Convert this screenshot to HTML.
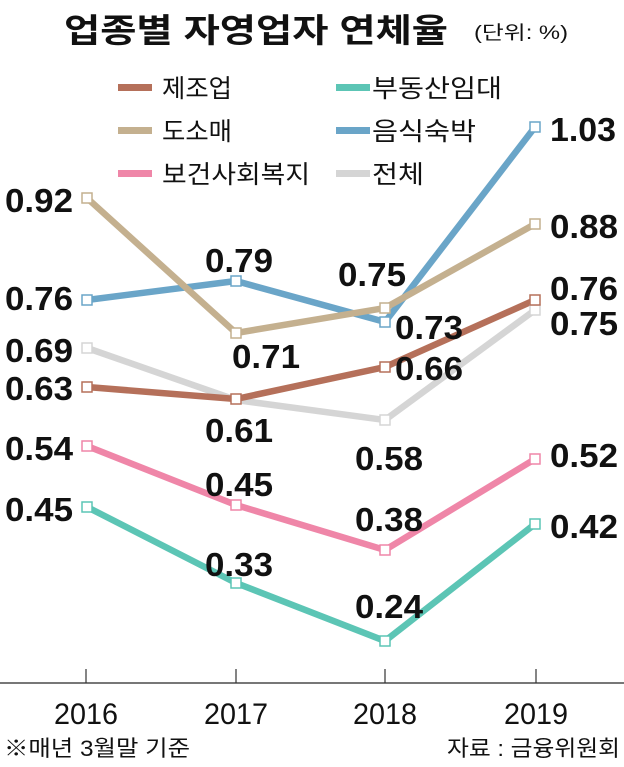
<!DOCTYPE html>
<html><head><meta charset="utf-8"><style>
body{margin:0;background:#fff;width:624px;height:762px;overflow:hidden}
svg text{font-family:"Liberation Sans","Noto Sans CJK KR",sans-serif}
</style></head><body>
<svg width="624" height="762" xmlns="http://www.w3.org/2000/svg">
<text x="64" y="42" font-size="33" font-weight="bold" fill="#111" textLength="384" lengthAdjust="spacingAndGlyphs">업종별 자영업자 연체율</text>
<text x="474" y="39" font-size="19" fill="#111" textLength="94" lengthAdjust="spacingAndGlyphs">(단위: %)</text>
<g font-size="25" fill="#111">
<rect x="118" y="84" width="34" height="7" fill="#b5705a"/><text x="162" y="97" textLength="70" lengthAdjust="spacingAndGlyphs">제조업</text>
<rect x="118" y="127" width="34" height="7" fill="#c4b08f"/><text x="162" y="140" textLength="70" lengthAdjust="spacingAndGlyphs">도소매</text>
<rect x="118" y="170" width="34" height="7" fill="#ef86a8"/><text x="162" y="183" textLength="148" lengthAdjust="spacingAndGlyphs">보건사회복지</text>
<rect x="336" y="84" width="34" height="7" fill="#5cc5b5"/><text x="372" y="97" textLength="130" lengthAdjust="spacingAndGlyphs">부동산임대</text>
<rect x="336" y="127" width="34" height="7" fill="#6aa5c8"/><text x="372" y="140" textLength="104" lengthAdjust="spacingAndGlyphs">음식숙박</text>
<rect x="336" y="170" width="34" height="7" fill="#d5d5d5"/><text x="372" y="183" textLength="52" lengthAdjust="spacingAndGlyphs">전체</text>
</g>
<line x1="0" y1="683" x2="624" y2="683" stroke="#777" stroke-width="2"/>
<g stroke="#333" stroke-width="1.2">
<line x1="86" y1="669" x2="86" y2="683"/><line x1="236" y1="669" x2="236" y2="683"/>
<line x1="385" y1="669" x2="385" y2="683"/><line x1="536" y1="669" x2="536" y2="683"/>
</g>
<g font-size="30" fill="#111">
<text x="54" y="724" textLength="64" lengthAdjust="spacingAndGlyphs">2016</text>
<text x="204" y="724" textLength="64" lengthAdjust="spacingAndGlyphs">2017</text>
<text x="353" y="724" textLength="64" lengthAdjust="spacingAndGlyphs">2018</text>
<text x="504" y="724" textLength="64" lengthAdjust="spacingAndGlyphs">2019</text>
</g>
<text x="4" y="756" font-size="22" fill="#111" textLength="186" lengthAdjust="spacingAndGlyphs">※매년 3월말 기준</text>
<text x="447" y="756" font-size="22" fill="#111" textLength="173" lengthAdjust="spacingAndGlyphs">자료 : 금융위원회</text>
<g fill="none" stroke-width="6.5" stroke-linejoin="round">
<polyline stroke="#d5d5d5" points="87,348 236,400 385,420 535,310"/>
<polyline stroke="#5cc5b5" points="87,507 236,583 385,641 535,524"/>
<polyline stroke="#ef86a8" points="87,446 236,505 385,550 535,459"/>
<polyline stroke="#b5705a" points="87,387 236,399 385,367 535,300"/>
<polyline stroke="#6aa5c8" points="87,300 236,281 385,322 535,127"/>
<polyline stroke="#c4b08f" points="87,198 236,333 385,308 535,224"/>
</g>
<g fill="#fff" stroke-width="1.5">
<g stroke="#d5d5d5"><rect x="82" y="343" width="10" height="10"/><rect x="380" y="415" width="10" height="10"/><rect x="530" y="305" width="10" height="10"/></g>
<g stroke="#5cc5b5"><rect x="82" y="502" width="10" height="10"/><rect x="231" y="578" width="10" height="10"/><rect x="380" y="636" width="10" height="10"/><rect x="530" y="519" width="10" height="10"/></g>
<g stroke="#ef86a8"><rect x="82" y="441" width="10" height="10"/><rect x="231" y="500" width="10" height="10"/><rect x="380" y="545" width="10" height="10"/><rect x="530" y="454" width="10" height="10"/></g>
<g stroke="#b5705a"><rect x="82" y="382" width="10" height="10"/><rect x="231" y="394" width="10" height="10"/><rect x="380" y="362" width="10" height="10"/><rect x="530" y="295" width="10" height="10"/></g>
<g stroke="#6aa5c8"><rect x="82" y="295" width="10" height="10"/><rect x="231" y="276" width="10" height="10"/><rect x="380" y="317" width="10" height="10"/><rect x="530" y="122" width="10" height="10"/></g>
<g stroke="#c4b08f"><rect x="82" y="193" width="10" height="10"/><rect x="231" y="328" width="10" height="10"/><rect x="380" y="303" width="10" height="10"/><rect x="530" y="219" width="10" height="10"/></g>
</g>
<g font-size="33" font-weight="bold" fill="#111">
<text x="5" y="212" textLength="68" lengthAdjust="spacingAndGlyphs">0.92</text>
<text x="5" y="310" textLength="68" lengthAdjust="spacingAndGlyphs">0.76</text>
<text x="5" y="362" textLength="68" lengthAdjust="spacingAndGlyphs">0.69</text>
<text x="5" y="400" textLength="68" lengthAdjust="spacingAndGlyphs">0.63</text>
<text x="5" y="460" textLength="68" lengthAdjust="spacingAndGlyphs">0.54</text>
<text x="5" y="521" textLength="68" lengthAdjust="spacingAndGlyphs">0.45</text>
<text x="205" y="272" textLength="68" lengthAdjust="spacingAndGlyphs">0.79</text>
<text x="232" y="368" textLength="68" lengthAdjust="spacingAndGlyphs">0.71</text>
<text x="205" y="442" textLength="68" lengthAdjust="spacingAndGlyphs">0.61</text>
<text x="205" y="496" textLength="68" lengthAdjust="spacingAndGlyphs">0.45</text>
<text x="205" y="576" textLength="68" lengthAdjust="spacingAndGlyphs">0.33</text>
<text x="338" y="286" textLength="68" lengthAdjust="spacingAndGlyphs">0.75</text>
<text x="395" y="339" textLength="68" lengthAdjust="spacingAndGlyphs">0.73</text>
<text x="395" y="380" textLength="68" lengthAdjust="spacingAndGlyphs">0.66</text>
<text x="355" y="470" textLength="68" lengthAdjust="spacingAndGlyphs">0.58</text>
<text x="355" y="531" textLength="68" lengthAdjust="spacingAndGlyphs">0.38</text>
<text x="355" y="618" textLength="68" lengthAdjust="spacingAndGlyphs">0.24</text>
<text x="550" y="141" textLength="66" lengthAdjust="spacingAndGlyphs">1.03</text>
<text x="550" y="238" textLength="68" lengthAdjust="spacingAndGlyphs">0.88</text>
<text x="550" y="300" textLength="68" lengthAdjust="spacingAndGlyphs">0.76</text>
<text x="550" y="335" textLength="68" lengthAdjust="spacingAndGlyphs">0.75</text>
<text x="550" y="467" textLength="68" lengthAdjust="spacingAndGlyphs">0.52</text>
<text x="550" y="538" textLength="68" lengthAdjust="spacingAndGlyphs">0.42</text>
</g>
</svg>
</body></html>
